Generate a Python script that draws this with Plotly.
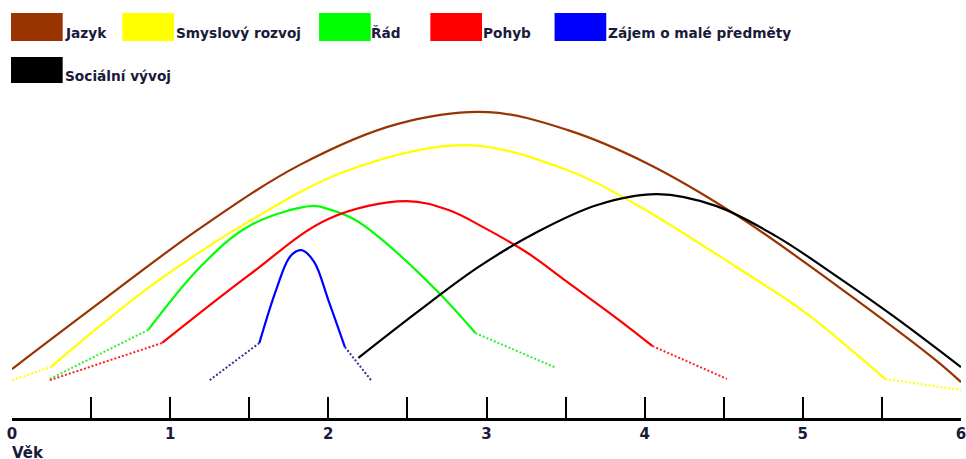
import plotly.graph_objects as go

# ---- data: age in years, intensity in arbitrary units ----
series_names = ["Jazyk", "Smyslový rozvoj", "Řád", "Pohyb", "Zájem o malé předměty", "Sociální vývoj"]

jazyk_x = [0.00, 0.56, 1.19, 1.82, 2.44, 3.01, 3.51, 4.01, 4.58, 5.21, 5.84, 6.00]
jazyk_y = [15.4, 36.5, 59.7, 79.6, 92.5, 96.2, 90.6, 80.2, 63.8, 41.8, 18.2, 11.3]

smysl_x = [0.00, 0.245, 0.87, 1.50, 2.13, 2.87, 3.51, 3.95, 4.58, 5.02, 5.33, 5.52, 6.00]
smysl_y = [11.9, 16.0, 41.2, 61.9, 78.0, 85.8, 78.0, 67.0, 47.5, 33.0, 20.4, 12.3, 8.8]

rad_x = [0.239, 0.861, 1.19, 1.50, 1.90, 2.00, 2.16, 2.32, 2.70, 2.93, 3.43]
rad_y = [12.3, 27.7, 47.5, 60.4, 66.7, 65.7, 62.6, 56.9, 39.3, 26.7, 16.0]

pohyb_x = [0.239, 0.949, 1.50, 2.00, 2.49, 2.76, 2.99, 3.26, 3.51, 3.83, 4.05, 4.52]
pohyb_y = [11.9, 23.6, 45.0, 62.6, 68.2, 65.4, 59.7, 51.9, 42.8, 31.1, 22.6, 12.3]

zajem_x = [1.25, 1.564, 1.67, 1.76, 1.83, 1.91, 2.00, 2.105, 2.27]
zajem_y = [11.9, 23.6, 40.3, 50.9, 52.8, 49.1, 37.1, 22.3, 11.9]

social_x = [2.19, 2.57, 2.95, 3.32, 3.70, 4.08, 4.45, 4.83, 5.21, 5.59, 6.00]
social_y = [18.9, 33.6, 47.5, 58.5, 67.0, 70.4, 66.7, 57.2, 44.7, 31.4, 16.0]

# first / last segment drawn dotted (lead-in, lead-out)
lead_in = [False, True, True, True, True, False]
lead_out = [False, True, True, True, True, False]

x_label = "Věk"
tick_labels = ["0", "1", "2", "3", "4", "5", "6"]

# ---- styles ----
colors = ["#993300", "#FFFF00", "#00FF00", "#FF0000", "#0000FF", "#000000"]
dot_colors = ["#993300", "#FFFF00", "#33EE33", "#FF2222", "#333399", "#000000"]
text_color = "#1a1a3a"
FONT = "DejaVu Sans"

W, H = 973, 459
ML, MR, MT, MB = 11, 7, 100, 41

series = [(jazyk_x, jazyk_y), (smysl_x, smysl_y), (rad_x, rad_y),
          (pohyb_x, pohyb_y), (zajem_x, zajem_y), (social_x, social_y)]

fig = go.Figure()
for i, (xs, ys) in enumerate(series):
    a = 1 if lead_in[i] else 0
    b = len(xs) - 1 if lead_out[i] else len(xs)
    fig.add_trace(go.Scatter(x=xs[a:b], y=ys[a:b], mode="lines", name=series_names[i],
                             line=dict(color=colors[i], width=2.2, shape="spline", smoothing=1.0),
                             showlegend=False, hoverinfo="skip"))
    if lead_in[i]:
        fig.add_trace(go.Scatter(x=xs[:2], y=ys[:2], mode="lines",
                                 line=dict(color=dot_colors[i], width=2, dash="2px,2px"),
                                 showlegend=False, hoverinfo="skip"))
    if lead_out[i]:
        fig.add_trace(go.Scatter(x=xs[-2:], y=ys[-2:], mode="lines",
                                 line=dict(color=dot_colors[i], width=2, dash="2px,2px"),
                                 showlegend=False, hoverinfo="skip"))


def px_x(p):
    return (p - ML) / (W - ML - MR)


def px_y(p):
    return (H - MB - p) / (H - MT - MB)


# hand-made legend: swatch boxes + labels
leg_swatch_x = [10, 122, 320, 432, 557, 10]
leg_text_x = [62, 174, 370, 483, 609, 62]
leg_row = [0, 0, 0, 0, 0, 1]
row_box = [(13, 41), (57, 83)]
row_text = [33, 76]

shapes = []
annotations = []
for i, name in enumerate(series_names):
    y0, y1 = row_box[leg_row[i]]
    shapes.append(dict(type="rect", xref="paper", yref="paper",
                       x0=px_x(leg_swatch_x[i]), x1=px_x(leg_swatch_x[i] + 52),
                       y0=px_y(y1), y1=px_y(y0),
                       fillcolor=colors[i], line=dict(width=0)))
    annotations.append(dict(text=name, xref="paper", yref="paper",
                            x=px_x(leg_text_x[i]), y=px_y(row_text[leg_row[i]]),
                            xanchor="left", yanchor="middle", showarrow=False,
                            font=dict(family=FONT, size=13.7, color=text_color, weight="bold")))

annotations.append(dict(text=x_label, xref="paper", yref="paper", x=px_x(9), y=0,
                        yshift=-35, xanchor="left", yanchor="middle", showarrow=False,
                        font=dict(family=FONT, size=15, color=text_color, weight="bold")))

fig.update_layout(
    width=W, height=H,
    margin=dict(l=ML, r=MR, t=MT, b=MB),
    paper_bgcolor="white", plot_bgcolor="white",
    shapes=shapes, annotations=annotations,
    xaxis=dict(range=[0, 6], showgrid=False, zeroline=False,
               showline=True, linecolor="black", linewidth=3,
               tickmode="array", tickvals=list(range(len(tick_labels))), ticktext=tick_labels,
               ticks="inside", ticklen=21, tickwidth=2, tickcolor="black",
               ticklabeloverflow="allow",
               minor=dict(tickmode="linear", tick0=0, dtick=0.5, ticks="inside",
                          ticklen=21, tickwidth=2, tickcolor="black", showgrid=False),
               tickfont=dict(family=FONT, size=15, color=text_color, weight="bold")),
    yaxis=dict(range=[0, 100], visible=False),
)

fig.write_html("out.html",
               config={"displayModeBar": False, "responsive": False},
               post_script=("document.documentElement.style.overflow='hidden';"
                            "document.body.style.margin='0';"
                            "document.body.style.overflow='hidden';"))
